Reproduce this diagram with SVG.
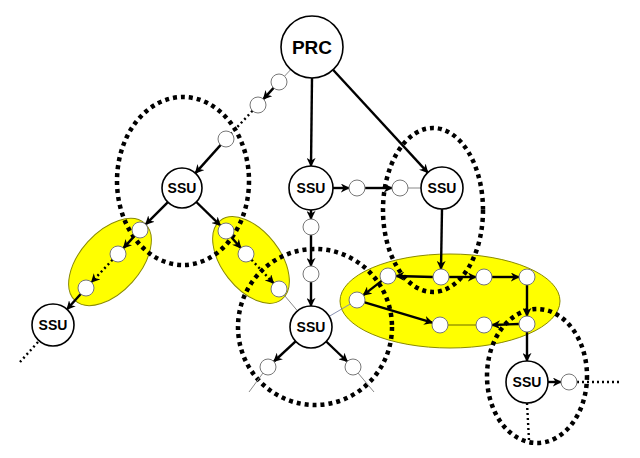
<svg xmlns="http://www.w3.org/2000/svg" width="640" height="458" viewBox="0 0 640 458">
<defs>
<marker id="ah" viewBox="0 0 10 10" refX="9" refY="5" markerWidth="9" markerHeight="9" markerUnits="userSpaceOnUse" orient="auto">
<path d="M0,0 L10,5 L0,10 L3,5 z" fill="#000"/>
</marker>
</defs>
<style>
.yel{fill:#ffff00;stroke:#8a8a00;stroke-width:1}
.dot{fill:none;stroke:#000;stroke-width:4.5;stroke-dasharray:4 4}
.big{fill:#fff;stroke:#000;stroke-width:1.6}
.sm{fill:#fff;stroke:#777;stroke-width:1}
.arr{stroke:#000;stroke-width:2.4;fill:none;marker-end:url(#ah)}
.darr{stroke:#000;stroke-width:2.4;stroke-dasharray:2 3;fill:none;marker-end:url(#ah)}
.dl{stroke:#000;stroke-width:2.4;stroke-dasharray:2 3;fill:none}
.thin{stroke:#888;stroke-width:1;fill:none}
.lbl{font-family:"Liberation Sans",Arial,sans-serif;font-weight:bold;text-anchor:middle;fill:#000}
</style>
<rect width="640" height="458" fill="#fff"/>
<g id="regions">
<ellipse class="yel" cx="110" cy="262" rx="52" ry="30" transform="rotate(-48 110 262)"/>
<ellipse class="yel" cx="251" cy="260" rx="50" ry="29" transform="rotate(52 251 260)"/>
<ellipse class="yel" cx="450" cy="301" rx="110" ry="47"/>
<ellipse class="dot" cx="183" cy="181" rx="66" ry="84"/>
<ellipse class="dot" cx="433" cy="210" rx="50" ry="82"/>
<ellipse class="dot" cx="315" cy="327" rx="77" ry="78"/>
<ellipse class="dot" cx="537" cy="376" rx="50" ry="67"/>
</g>
<g id="connectors">
<line class="thin" x1="290.7" y1="69.6" x2="284.5" y2="76.2"/>
<line class="arr" x1="273.6" y1="87.9" x2="263.4" y2="99.1"/>
<line class="dl" x1="252.5" y1="110.8" x2="231.5" y2="133.2"/>
<line class="arr" x1="220.7" y1="144.9" x2="195.4" y2="173.1"/>
<line class="arr" x1="167.9" y1="202.1" x2="145.7" y2="224.3"/>
<line class="arr" x1="196.3" y1="202" x2="220.3" y2="225.4"/>
<line class="arr" x1="134.6" y1="235.9" x2="123.4" y2="248.1"/>
<line class="darr" x1="112.5" y1="259.8" x2="91.5" y2="282.2"/>
<line class="arr" x1="80.7" y1="294" x2="67" y2="309.3"/>
<line class="dl" x1="38" y1="342" x2="20" y2="362"/>
<line class="arr" x1="231.2" y1="237" x2="240.8" y2="248"/>
<line class="darr" x1="251.5" y1="259.8" x2="273.5" y2="283.2"/>
<line class="thin" x1="284.2" y1="295.1" x2="297.5" y2="310.9"/>
<line class="arr" x1="312" y1="78" x2="311" y2="166"/>
<line class="arr" x1="333" y1="69.8" x2="427.8" y2="172.6"/>
<line class="arr" x1="333" y1="188" x2="349" y2="188"/>
<line class="arr" x1="365" y1="188" x2="392" y2="188"/>
<line class="thin" x1="408" y1="188" x2="421" y2="188"/>
<line class="arr" x1="311" y1="210" x2="311" y2="219"/>
<line class="arr" x1="311" y1="235" x2="311" y2="266"/>
<line class="arr" x1="311" y1="282" x2="311" y2="306"/>
<line class="arr" x1="295.6" y1="341.3" x2="273.9" y2="361.5"/>
<line class="arr" x1="326.2" y1="341.5" x2="347.2" y2="361.5"/>
<line class="thin" x1="263" y1="373" x2="249" y2="392"/>
<line class="thin" x1="358" y1="373" x2="374" y2="392"/>
<line class="thin" stroke="#88a" x1="329.1" y1="316.4" x2="350.1" y2="304.1" style="stroke:#8890b0"/>
<line class="arr" x1="442" y1="209" x2="441" y2="269"/>
<line class="arr" x1="433" y1="277" x2="396" y2="276"/>
<line class="arr" x1="449" y1="277" x2="476" y2="277"/>
<line class="arr" x1="492" y1="277" x2="519" y2="277"/>
<line class="arr" x1="527" y1="285" x2="527" y2="316"/>
<line class="arr" x1="519" y1="324" x2="492" y2="325"/>
<line class="thin" x1="476" y1="325" x2="448" y2="325" style="stroke:#6b6b00"/>
<line class="arr" x1="381.7" y1="280.9" x2="363.3" y2="295.1"/>
<line class="arr" x1="364.7" y1="302.3" x2="432.3" y2="322.7"/>
<line class="arr" x1="527" y1="332" x2="527" y2="361"/>
<line class="arr" x1="548" y1="382" x2="561" y2="382"/>
<line class="dl" x1="577" y1="382" x2="622" y2="382"/>
<line class="dl" x1="527" y1="403" x2="529" y2="440"/>
</g>
<g id="prc"><circle class="big" cx="312" cy="47" r="31"/><text class="lbl" x="312" y="54" font-size="19">PRC</text></g>
<g id="ssu-left"><circle class="big" cx="182" cy="188" r="20"/><text class="lbl" x="182" y="193" font-size="14">SSU</text></g>
<g id="ssu-mid"><circle class="big" cx="311" cy="188" r="22"/><text class="lbl" x="311" y="193" font-size="14">SSU</text></g>
<g id="ssu-right"><circle class="big" cx="442" cy="188" r="21"/><text class="lbl" x="442" y="193" font-size="14">SSU</text></g>
<g id="ssu-farleft"><circle class="big" cx="53" cy="325" r="21"/><text class="lbl" x="53" y="330" font-size="14">SSU</text></g>
<g id="ssu-bottom"><circle class="big" cx="311" cy="327" r="21"/><text class="lbl" x="311" y="332" font-size="14">SSU</text></g>
<g id="ssu-br"><circle class="big" cx="527" cy="382" r="21"/><text class="lbl" x="527" y="387" font-size="14">SSU</text></g>
<g id="relays">
<circle class="sm" cx="279" cy="82" r="8"/>
<circle class="sm" cx="258" cy="105" r="8"/>
<circle class="sm" cx="226" cy="139" r="8"/>
<circle class="sm" cx="140" cy="230" r="8"/>
<circle class="sm" cx="118" cy="254" r="8"/>
<circle class="sm" cx="86" cy="288" r="8"/>
<circle class="sm" cx="226" cy="231" r="8"/>
<circle class="sm" cx="246" cy="254" r="8"/>
<circle class="sm" cx="279" cy="289" r="8"/>
<circle class="sm" cx="357" cy="188" r="8"/>
<circle class="sm" cx="400" cy="188" r="8"/>
<circle class="sm" cx="311" cy="227" r="8"/>
<circle class="sm" cx="311" cy="274" r="8"/>
<circle class="sm" cx="268" cy="367" r="8"/>
<circle class="sm" cx="353" cy="367" r="8"/>
<circle class="sm" cx="388" cy="276" r="8"/>
<circle class="sm" cx="441" cy="277" r="8"/>
<circle class="sm" cx="484" cy="277" r="8"/>
<circle class="sm" cx="527" cy="277" r="8"/>
<circle class="sm" cx="357" cy="300" r="8"/>
<circle class="sm" cx="440" cy="325" r="8"/>
<circle class="sm" cx="484" cy="325" r="8"/>
<circle class="sm" cx="527" cy="324" r="8"/>
<circle class="sm" cx="569" cy="382" r="8"/>
</g>
</svg>
